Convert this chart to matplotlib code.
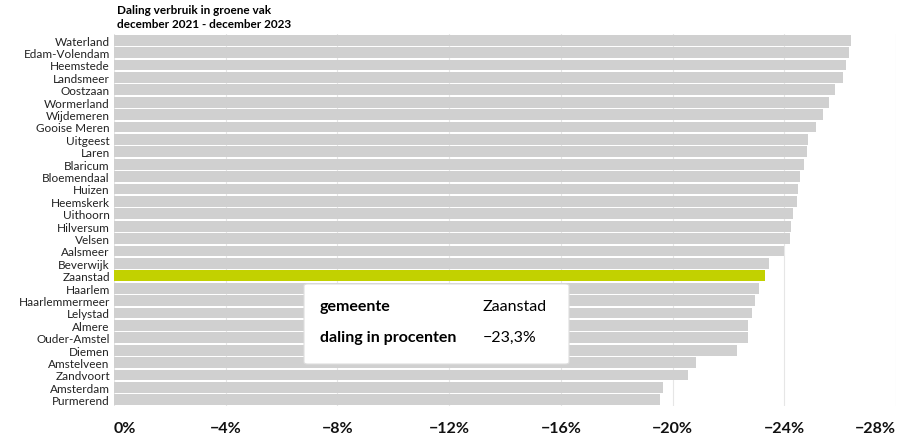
import matplotlib
matplotlib.use("Agg")
import matplotlib.pyplot as plt
from matplotlib.patches import FancyBboxPatch

plt.rcParams['font.family'] = ['Lato', 'DejaVu Sans']

gemeenten = ["Waterland", "Edam-Volendam", "Heemstede", "Landsmeer", "Oostzaan", "Wormerland",
             "Wijdemeren", "Gooise Meren", "Uitgeest", "Laren", "Blaricum", "Bloemendaal", "Huizen",
             "Heemskerk", "Uithoorn", "Hilversum", "Velsen", "Aalsmeer", "Beverwijk", "Zaanstad",
             "Haarlem", "Haarlemmermeer", "Lelystad", "Almere", "Ouder-Amstel", "Diemen",
             "Amstelveen", "Zandvoort", "Amsterdam", "Purmerend"]
daling = [26.4, 26.3, 26.2, 26.1, 25.8, 25.6, 25.4, 25.15, 24.85, 24.8, 24.7, 24.55, 24.5,
          24.45, 24.3, 24.25, 24.2, 24.0, 23.45, 23.3, 23.1, 22.95, 22.85, 22.7, 22.7, 22.3,
          20.85, 20.55, 19.65, 19.55]
ticks = [0, 4, 8, 12, 16, 20, 24, 28]
tick_labels = ["0%", "−4%", "−8%", "−12%", "−16%", "−20%", "−24%", "−28%"]
highlight = "Zaanstad"

fig = plt.figure(figsize=(9, 4.39), dpi=100)
ax = fig.add_axes([114/900, 1-407/439, 782/900, 372/439])
y = list(range(len(gemeenten)))
colors = ["#c2d100" if g == highlight else "#d0d0d0" for g in gemeenten]
ax.barh(y, daling, height=0.86, color=colors, zorder=2)
ax.set_ylim(len(gemeenten)-0.5, -0.5)
ax.set_xlim(0, 28)
ax.set_yticks(y)
ax.set_yticklabels(gemeenten, fontsize=8.5, color="#222222")
ax.set_xticks(ticks)
ax.set_xticklabels(tick_labels, fontsize=11.5, fontweight="bold", color="#111111")
labs = ax.get_xticklabels()
labs[0].set_ha("left")
labs[-1].set_ha("right")
ax.tick_params(axis="both", length=0)
ax.tick_params(axis="x", pad=11)
ax.tick_params(axis="y", pad=3)
ax.grid(axis="x", color="#e6e6e6", linewidth=0.8, zorder=3)
for s in ax.spines.values():
    s.set_visible(False)

fig.text(117/900, 1-11/439, "Daling verbruik in groene vak", fontsize=8.5, fontweight="bold", va="center")
fig.text(117/900, 1-25/439, "december 2021 - december 2023", fontsize=8.5, fontweight="bold", va="center")

# tooltip
box = FancyBboxPatch((304/900, 1-365/439), 265/900, 80/439, boxstyle="round,pad=0,rounding_size=0.004",
                     transform=fig.transFigure, facecolor="white", edgecolor="#dddddd", linewidth=0.8, zorder=10)
fig.patches.append(box)
fig.text(320/900, 1-307/439, "gemeente", fontsize=11.5, fontweight="bold", va="center", zorder=11)
fig.text(320/900, 1-338/439, "daling in procenten", fontsize=11.5, fontweight="bold", va="center", zorder=11)
fig.text(483/900, 1-307/439, highlight, fontsize=11.5, va="center", zorder=11)
fig.text(483/900, 1-338/439, "−23,3%", fontsize=11.5, va="center", zorder=11)

fig.savefig("out.png", dpi=100)
